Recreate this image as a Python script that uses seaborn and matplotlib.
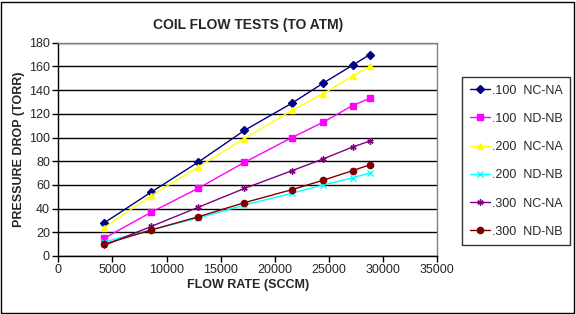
import matplotlib
matplotlib.use("Agg")
import matplotlib.pyplot as plt
import seaborn as sns
import pandas as pd
from matplotlib.patches import Rectangle
from matplotlib.lines import Line2D

flow = [4250, 8600, 12900, 17200, 21600, 24500, 27200, 28800]
s100_nc = [28, 54, 79, 106, 129, 146, 161, 170]
s100_nd = [15, 37, 57, 79, 100, 113, 127, 133]
s200_nc = [24, 51, 75, 99, 123, 137, 152, 160]
s200_nd = [12, 22, 32, 43, 53, 60, 66, 70]
s300_nc = [9, 25, 41, 57, 72, 82, 92, 97]
s300_nd = [10, 22, 33, 45, 56, 64, 72, 77]

names = [".100  NC-NA", ".100  ND-NB", ".200  NC-NA", ".200  ND-NB", ".300  NC-NA", ".300  ND-NB"]
series = [s100_nc, s100_nd, s200_nc, s200_nd, s300_nc, s300_nd]
colors = ["#000080", "#FF00FF", "#FFFF00", "#00FFFF", "#800080", "#800000"]
markers = ["D", "s", "^", "x", (6, 2, 0), "o"]

sns.set_theme(style="white")
plt.rcParams["font.family"] = ["Liberation Sans", "DejaVu Sans"]

fig = plt.figure(figsize=(5.76, 3.14), dpi=100)
ax = fig.add_axes([58.3/576, 1-256/314, (437-58.3)/576, (256-42.7)/314])

for n, s, c, m in zip(names, series, colors, markers):
    d = pd.DataFrame({"flow": flow, "dp": s})
    sns.lineplot(data=d, x="flow", y="dp", color=c, marker=m, markersize=4.5,
                 markeredgecolor=c, markeredgewidth=1.0, linewidth=1.0, ax=ax)

ax.set_xlim(0, 35000)
ax.set_ylim(0, 180)
ax.set_xticks(range(0, 35001, 5000))
ax.set_yticks(range(0, 181, 20))
ax.yaxis.grid(True, color="black", linewidth=1.0)
ax.xaxis.grid(False)
ax.set_axisbelow(True)
for side in ["top", "right"]:
    ax.spines[side].set_color("#808080")
    ax.spines[side].set_linewidth(1.0)
for side in ["left", "bottom"]:
    ax.spines[side].set_color("black")
    ax.spines[side].set_linewidth(1.0)
ax.tick_params(axis="both", which="major", length=4, width=1, color="black",
               direction="out", labelsize=9, pad=2, bottom=True, left=True)
ax.set_xlabel("FLOW RATE (SCCM)", fontsize=9, fontweight="bold", labelpad=2)
ax.set_ylabel("PRESSURE DROP (TORR)", fontsize=9, fontweight="bold", labelpad=3)
ax.set_title("COIL FLOW TESTS (TO ATM)", fontsize=10, fontweight="bold", pad=10)

handles = [Line2D([0], [0], color=c, marker=m, markersize=4.5, markeredgecolor=c,
                  linewidth=1.0) for c, m in zip(colors, markers)]
leg = fig.legend(handles, names, loc="upper left",
                 bbox_to_anchor=(462/576, 1-77/314), bbox_transform=fig.transFigure,
                 frameon=True, fontsize=9, handlelength=1.6, labelspacing=1.3,
                 borderpad=0.6, handletextpad=0.2, fancybox=False, borderaxespad=0)
leg.get_frame().set_edgecolor("black")
leg.get_frame().set_linewidth(1.0)

fig.patches.append(Rectangle((1/576, 1/314), 573/576, 311/314, transform=fig.transFigure,
                             fill=False, edgecolor="black", linewidth=1.0))

fig.savefig("out.png", dpi=100)
